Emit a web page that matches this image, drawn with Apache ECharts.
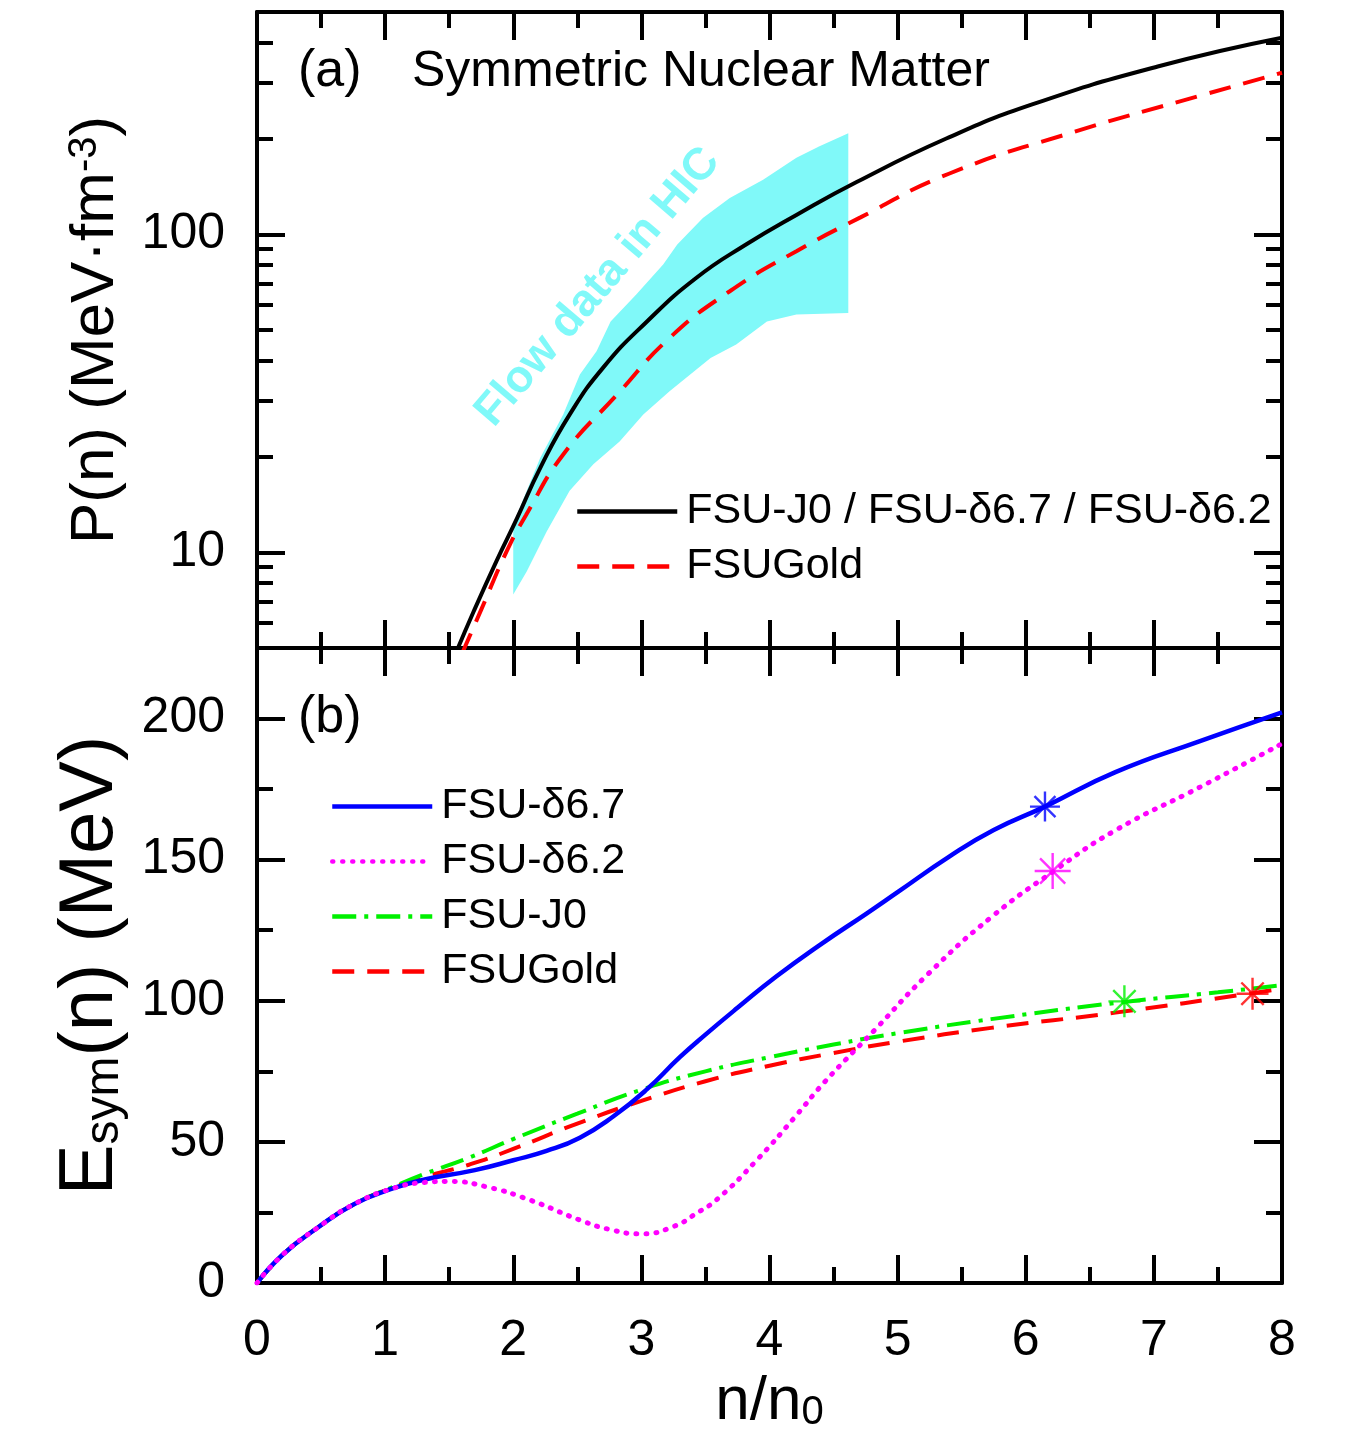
<!DOCTYPE html>
<html><head><meta charset="utf-8">
<script src="https://cdn.jsdelivr.net/npm/echarts@6/dist/echarts.min.js"></script>
<style>html,body{margin:0;padding:0;background:#fff}#c{width:1352px;height:1447px}</style>
</head><body><div id="c"></div>
<script>
// ---- tick values ----
const xTicks = [0,1,2,3,4,5,6,7,8];
const xMinorTicks = [0.5,1.5,2.5,3.5,4.5,5.5,6.5,7.5];
const pMajorTicks = [10,100];
const pMinorTicks = [6,7,8,9,20,30,40,50,60,70,80,90,200,300,400];
const eMajorTicks = [0,50,100,150,200];
const eMinorTicks = [25,75,125,175];

// ---- panel (a): pressure of symmetric nuclear matter ----
const pBlack = [[1.55,4.8],[1.69,6.5],[1.87,9.4],[2.03,12.8],[2.21,18.4],[2.44,27.1],[2.70,38],[3.04,53],[3.43,73],[3.82,93],[4.21,115],[4.68,146],[5.38,200],[6.05,256],[7.03,337],[8.0,415]];
const pRed = [[1.6,4.8],[1.75,6.6],[1.95,10.1],[2.1,13.1],[2.39,20.3],[2.81,31.3],[3.22,47.2],[3.69,66.2],[4.21,88.5],[4.71,113],[5.4,155],[6.38,210],[7.35,272],[8.0,322]];
const bandUpper = [[2.0,12.3],[2.21,19.8],[2.39,27.1],[2.52,36.2],[2.65,42.9],[2.76,53.2],[2.96,64.6],[3.17,80.3],[3.28,92.8],[3.48,112.5],[3.69,130],[3.95,148.5],[4.21,174],[4.39,189],[4.615,208]];
const bandLower = [[2.0,7.36],[2.105,8.7],[2.26,11.6],[2.44,15.6],[2.625,18.9],[2.83,22.3],[3.015,27.1],[3.22,32.1],[3.54,40.8],[3.74,45],[3.98,53.2],[4.21,55.9],[4.615,56.5]];

// ---- panel (b): symmetry energy ----
const eBlue = [[0,0],[0.2,10],[0.47,19.5],[0.76,28],[1.06,33.5],[1.3,36.6],[1.7,40],[2.0,43.5],[2.26,46.8],[2.52,51.5],[2.78,59],[3.04,68.5],[3.3,80],[3.5,88],[3.75,97.5],[4.05,108.5],[4.4,120],[4.76,131],[5.0,138.5],[5.4,151],[5.75,160.5],[6.15,168.8],[6.7,181],[7.36,192],[8.0,202.2]];
const eMagenta = [[0,0],[0.2,10],[0.47,19.5],[0.76,28],[1.06,33.5],[1.3,35.6],[1.5,36],[1.8,34],[2.13,29.4],[2.52,22.3],[2.75,19],[3.0,17.4],[3.25,20],[3.43,24.7],[3.6,30],[3.9,43.5],[4.2,58.9],[4.43,71.2],[4.82,89.6],[5.24,109.6],[5.73,129.6],[6.22,146],[6.7,160.4],[7.36,175.7],[8.0,191.1]];
const eGreen = [[0,0],[0.2,10],[0.47,19.5],[0.76,28],[1.06,34],[1.3,38.5],[1.66,44.5],[2.0,51],[2.5,60],[3.0,68.5],[3.5,75],[4.0,80],[4.5,84.5],[5.0,88.5],[5.73,93.5],[6.77,99.6],[7.5,103],[8.0,105.5]];
const eRed = [[0,0],[0.2,10],[0.47,19.5],[0.76,28],[1.06,33.8],[1.3,37.5],[1.66,42],[2.0,47.5],[2.5,56.5],[3.0,64.5],[3.5,71.5],[4.0,77],[4.5,81.5],[5.0,85.5],[5.73,90.4],[6.7,95.8],[7.77,102.7],[8.0,104.3]];
const starBlue = [[6.15,168.8]];
const starMagenta = [[6.21,146]];
const starGreen = [[6.77,99.8]];
const starRed = [[7.77,102.5]];

const nameTop = 'FSU-J0 / FSU-δ6.7 / FSU-δ6.2';
const nameGold = 'FSUGold';
const nameD67 = 'FSU-δ6.7';
const nameD62 = 'FSU-δ6.2';
const nameJ0 = 'FSU-J0';

const FF = "'Liberation Sans', Arial, Helvetica, sans-serif";
const K = '#000';
const C_BLUE = '#0000ff', C_MAG = '#ff00ff', C_GREEN = '#00f000', C_RED = '#ff0000', C_CYAN = '#80f9f9';
const MAJ = 28, MIN = 16;

function xAx(grid, pos, ticks, len, line, extra) {
  return Object.assign({
    type: 'value', gridIndex: grid, position: pos, min: 0, max: 8,
    axisLine: {show: line, onZero: false, lineStyle: {color: K, width: 4}},
    axisTick: {show: true, inside: true, length: len, customValues: ticks, lineStyle: {color: K, width: 4}},
    axisLabel: {show: false}, splitLine: {show: false}
  }, extra || {});
}
function pAx(pos, ticks, len, line, extra) {
  return Object.assign({
    type: 'log', logBase: 10, gridIndex: 0, position: pos, min: 5, max: 500,
    axisLine: {show: line, onZero: false, lineStyle: {color: K, width: 4}},
    axisTick: {show: true, inside: true, length: len, customValues: ticks, lineStyle: {color: K, width: 4}},
    axisLabel: {show: false}, splitLine: {show: false}
  }, extra || {});
}
function eAx(pos, ticks, len, line, extra) {
  return Object.assign({
    type: 'value', gridIndex: 1, position: pos, min: 0, max: 225,
    axisLine: {show: line, onZero: false, lineStyle: {color: K, width: 4}},
    axisTick: {show: true, inside: true, length: len, customValues: ticks, lineStyle: {color: K, width: 4}},
    axisLabel: {show: false}, splitLine: {show: false}
  }, extra || {});
}
const labelStyle = {show: true, fontSize: 50, fontFamily: FF, color: K};

const starPath = 'path://M10,0 L10,20 M0,10 L20,10 M3,3 L17,17 M3,17 L17,3';
function star(data, color, size) {
  return {type: 'scatter', xAxisIndex: 4, yAxisIndex: 4, data: data, symbol: starPath, symbolSize: size,
    itemStyle: {color: 'rgba(0,0,0,0)', borderColor: color, borderWidth: 2.4}, z: 5, silent: true};
}
function legendDef(names, left, top) {
  return {data: names, orient: 'vertical', left: left, top: top, padding: 0, itemWidth: 100, itemHeight: 20, itemGap: 12,
    selectedMode: false,
    itemStyle: {color: 'rgba(0,0,0,0)', borderColor: 'rgba(0,0,0,0)', borderWidth: 0},
    lineStyle: {width: 4.5},
    textStyle: {fontSize: 43, fontFamily: FF, color: K, padding: [0, 0, 0, 4]}};
}

const option = {
  animation: false,
  backgroundColor: '#fff',
  grid: [
    {left: 257, right: 70, top: 12, height: 636},
    {left: 257, right: 70, top: 648, height: 635}
  ],
  xAxis: [
    xAx(0, 'bottom', xTicks, MAJ, true),
    xAx(0, 'bottom', xMinorTicks, MIN, false),
    xAx(0, 'top', xTicks, MAJ, true),
    xAx(0, 'top', xMinorTicks, MIN, false),
    xAx(1, 'bottom', xTicks, MAJ, true, {
      axisLabel: Object.assign({customValues: xTicks, margin: 33}, labelStyle),
      name: 'n/n{sub|0}', nameLocation: 'middle', nameGap: 88,
      nameTextStyle: {fontSize: 62, fontFamily: FF, color: K,
        rich: {sub: {fontSize: 40, fontFamily: FF, color: K, verticalAlign: 'bottom', lineHeight: 10}}}
    }),
    xAx(1, 'bottom', xMinorTicks, MIN, false),
    xAx(1, 'top', xTicks, MAJ, true),
    xAx(1, 'top', xMinorTicks, MIN, false)
  ],
  yAxis: [
    pAx('left', pMajorTicks, MAJ, true, {
      axisLabel: Object.assign({customValues: pMajorTicks, margin: 32, formatter: v => String(Math.round(v))}, labelStyle),
      name: 'P(n) (MeV·fm{sup|-3})', nameLocation: 'middle', nameGap: 130,
      nameTextStyle: {fontSize: 62, fontFamily: FF, color: K,
        rich: {sup: {fontSize: 40, fontFamily: FF, color: K, verticalAlign: 'top', lineHeight: 26}}}
    }),
    pAx('left', pMinorTicks, MIN, false),
    pAx('right', pMajorTicks, MAJ, true),
    pAx('right', pMinorTicks, MIN, false),
    eAx('left', eMajorTicks, MAJ, true, {
      axisLabel: Object.assign({customValues: eMajorTicks, margin: 32}, labelStyle),
      name: 'E{sub|sym}(n) (MeV)', nameLocation: 'middle', nameGap: 128,
      nameTextStyle: {fontSize: 76, fontFamily: FF, color: K,
        rich: {sub: {fontSize: 48, fontFamily: FF, color: K, verticalAlign: 'bottom', lineHeight: 16}}}
    }),
    eAx('left', eMinorTicks, MIN, false),
    eAx('right', eMajorTicks, MAJ, true),
    eAx('right', eMinorTicks, MIN, false)
  ],
  legend: [
    legendDef([nameTop, nameGold], 575, 490),
    legendDef([nameD67, nameD62, nameJ0, nameGold], 330, 785)
  ],
  graphic: [
    {type: 'text', x: 298, y: 72, style: {text: '(a)', fontSize: 52, fontFamily: FF, fill: K, align: 'left', verticalAlign: 'middle'}},
    {type: 'text', x: 412, y: 72, style: {text: 'Symmetric Nuclear Matter', fontSize: 50, fontFamily: FF, fill: K, align: 'left', verticalAlign: 'middle'}},
    {type: 'text', x: 298, y: 718, style: {text: '(b)', fontSize: 52, fontFamily: FF, fill: K, align: 'left', verticalAlign: 'middle'}},
    {type: 'text', x: 598, y: 287, rotation: 49.5 * Math.PI / 180, z: 2,
     style: {text: 'Flow data in HIC', fontSize: 45, fontWeight: 'bold', fontFamily: FF, fill: C_CYAN, align: 'center', verticalAlign: 'middle'}}
  ],
  series: [
    {type: 'custom', xAxisIndex: 0, yAxisIndex: 0, data: [[3, 30]], silent: true, z: 1,
     renderItem: function (params, api) {
       const pts = bandUpper.map(p => api.coord(p)).concat(bandLower.slice().reverse().map(p => api.coord(p)));
       return {type: 'polygon', shape: {points: pts}, style: {fill: C_CYAN}};
     }},
    {type: 'line', name: nameTop, xAxisIndex: 0, yAxisIndex: 0, data: pBlack, symbol: 'none', smooth: 0.5,
     itemStyle: {color: K}, lineStyle: {color: K, width: 4}, z: 3},
    {type: 'line', name: nameGold, xAxisIndex: 0, yAxisIndex: 0, data: pRed, symbol: 'none', smooth: 0.5,
     itemStyle: {color: C_RED}, lineStyle: {color: C_RED, width: 4, type: [22, 13]}, z: 3},
    {type: 'line', name: nameGold, xAxisIndex: 4, yAxisIndex: 4, data: eRed, symbol: 'none', smooth: 0.5,
     itemStyle: {color: C_RED}, lineStyle: {color: C_RED, width: 4, type: [22, 13]}, z: 3},
    {type: 'line', name: nameJ0, xAxisIndex: 4, yAxisIndex: 4, data: eGreen, symbol: 'none', smooth: 0.5,
     itemStyle: {color: C_GREEN}, lineStyle: {color: C_GREEN, width: 4, type: [24, 8, 4, 8]}, z: 3},
    {type: 'line', name: nameD67, xAxisIndex: 4, yAxisIndex: 4, data: eBlue, symbol: 'none', smooth: 0.5,
     itemStyle: {color: C_BLUE}, lineStyle: {color: C_BLUE, width: 4.5}, z: 3},
    {type: 'line', name: nameD62, xAxisIndex: 4, yAxisIndex: 4, data: eMagenta, symbol: 'none', smooth: 0.5,
     itemStyle: {color: C_MAG}, lineStyle: {color: C_MAG, width: 5, type: [1, 9], cap: 'round'}, z: 3},
    star(starBlue, C_BLUE, 30),
    star(starMagenta, C_MAG, 36),
    star(starGreen, C_GREEN, 32),
    star(starRed, C_RED, 32)
  ]
};
const chart = echarts.init(document.getElementById('c'), null, {renderer: 'canvas'});
chart.setOption(option);
</script></body></html>
